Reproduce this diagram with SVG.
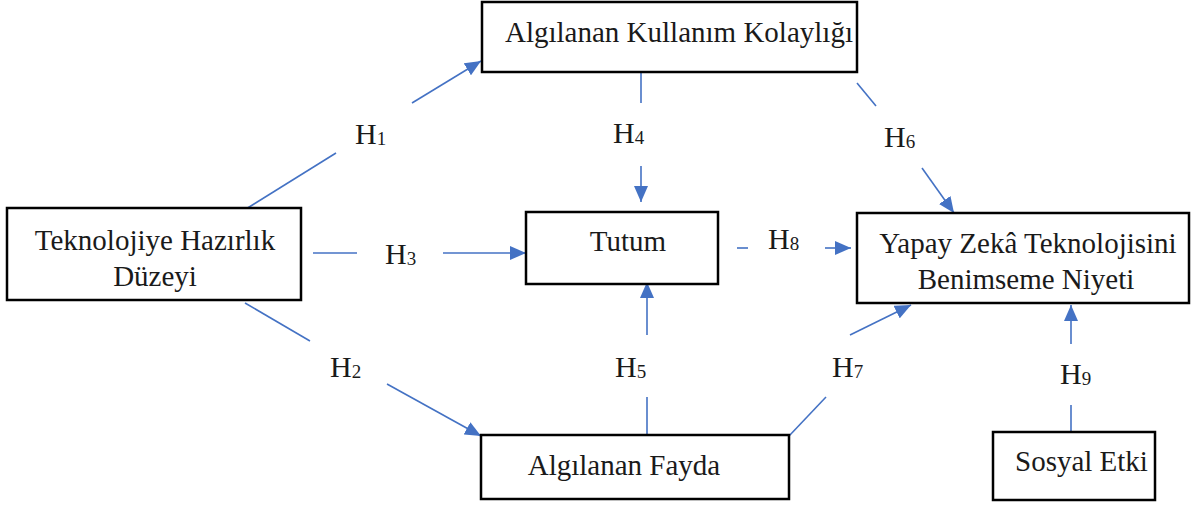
<svg xmlns="http://www.w3.org/2000/svg" width="1192" height="507" viewBox="0 0 1192 507">
  <style>
    .box { fill: #ffffff; stroke: #000000; stroke-width: 2.5; }
    .lbl { font-family: "Liberation Serif", "Times New Roman", serif; font-size: 29px; fill: #1a1a1a; }
    .hyp { font-family: "Liberation Serif", "Times New Roman", serif; font-size: 30px; fill: #1a1a1a; }
    .sub { font-size: 19px; }
    .conn { stroke: #4472C4; stroke-width: 1.6; fill: none; }
    .arr { marker-end: url(#head); }
  </style>
  <defs>
    <marker id="head" markerUnits="userSpaceOnUse" markerWidth="16" markerHeight="14" refX="16" refY="7" orient="auto">
      <path d="M0,0 L16,7 L0,14 Z" fill="#4472C4"/>
    </marker>
  </defs>
  <rect width="1192" height="507" fill="#ffffff"/>

  <!-- connectors, each split around its hypothesis label -->
  <g id="connectors">
    <!-- H1: readiness -> ease of use -->
    <line class="conn" x1="246" y1="209" x2="336" y2="153"/>
    <line class="conn arr" x1="412" y1="103" x2="481" y2="61"/>
    <text class="hyp" x="355" y="144">H<tspan class="sub" dy="1">1</tspan></text>
    <!-- H2: readiness -> usefulness -->
    <line class="conn" x1="245" y1="303" x2="310" y2="341"/>
    <line class="conn arr" x1="387" y1="384" x2="481" y2="436"/>
    <text class="hyp" x="330" y="377">H<tspan class="sub" dy="1">2</tspan></text>
    <!-- H3: readiness -> attitude -->
    <line class="conn" x1="313" y1="253" x2="357" y2="253"/>
    <line class="conn arr" x1="443" y1="253" x2="526" y2="253"/>
    <text class="hyp" x="385" y="264">H<tspan class="sub" dy="1">3</tspan></text>
    <!-- H4: ease of use -> attitude -->
    <line class="conn" x1="641" y1="73" x2="641" y2="103"/>
    <line class="conn arr" x1="641" y1="166" x2="641" y2="202"/>
    <text class="hyp" x="613" y="143">H<tspan class="sub" dy="1">4</tspan></text>
    <!-- H5: usefulness -> attitude -->
    <line class="conn" x1="647" y1="446" x2="647" y2="397"/>
    <line class="conn arr" x1="647" y1="335" x2="647" y2="282"/>
    <text class="hyp" x="615" y="377">H<tspan class="sub" dy="1">5</tspan></text>
    <!-- H6: ease of use -> intention -->
    <line class="conn" x1="857" y1="83" x2="876" y2="106"/>
    <line class="conn arr" x1="922" y1="168" x2="954" y2="213"/>
    <text class="hyp" x="884" y="147">H<tspan class="sub" dy="1">6</tspan></text>
    <!-- H7: usefulness -> intention -->
    <line class="conn" x1="789" y1="436" x2="826" y2="397"/>
    <line class="conn arr" x1="850" y1="335" x2="911" y2="305"/>
    <text class="hyp" x="832" y="377">H<tspan class="sub" dy="1">7</tspan></text>
    <!-- H8: attitude -> intention -->
    <line class="conn" x1="737" y1="248" x2="748" y2="248"/>
    <line class="conn arr" x1="825" y1="248" x2="851" y2="248"/>
    <text class="hyp" x="768" y="249">H<tspan class="sub" dy="1">8</tspan></text>
    <!-- H9: social influence -> intention -->
    <line class="conn" x1="1071" y1="432" x2="1071" y2="405"/>
    <line class="conn arr" x1="1071" y1="344" x2="1071" y2="305"/>
    <text class="hyp" x="1060" y="384">H<tspan class="sub" dy="1">9</tspan></text>
  </g>

  <g id="kolaylik">
    <rect class="box" x="482" y="2" width="375" height="70"/>
    <text class="lbl" x="505" y="42">Algılanan Kullanım Kolaylığı</text>
  </g>

  <g id="hazirlik">
    <rect class="box" x="7" y="208" width="294" height="92"/>
    <text class="lbl" x="155" y="250" text-anchor="middle">Teknolojiye Hazırlık</text>
    <text class="lbl" x="155" y="286" text-anchor="middle">Düzeyi</text>
  </g>

  <g id="tutum">
    <rect class="box" x="526" y="212" width="192" height="72"/>
    <text class="lbl" x="628" y="251" text-anchor="middle">Tutum</text>
  </g>

  <g id="niyet">
    <rect class="box" x="857" y="213" width="332" height="90"/>
    <text class="lbl" x="1028" y="253" text-anchor="middle">Yapay Zekâ Teknolojisini</text>
    <text class="lbl" x="1026" y="289" text-anchor="middle">Benimseme Niyeti</text>
  </g>

  <g id="fayda">
    <rect class="box" x="481" y="435" width="308" height="64"/>
    <text class="lbl" x="624" y="475" text-anchor="middle">Algılanan Fayda</text>
  </g>

  <g id="sosyal">
    <rect class="box" x="993" y="432" width="162" height="68"/>
    <text class="lbl" x="1015" y="471">Sosyal Etki</text>
  </g>
</svg>
